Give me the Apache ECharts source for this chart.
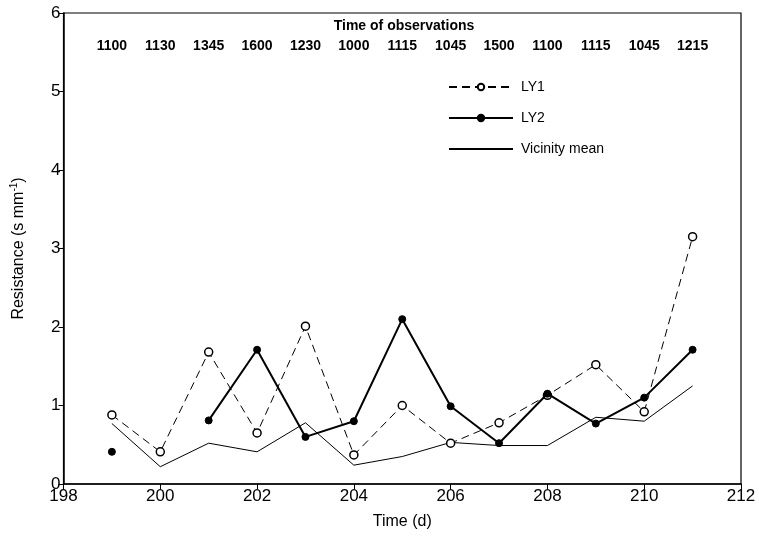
<!DOCTYPE html>
<html><head><meta charset="utf-8">
<script src="https://cdn.jsdelivr.net/npm/echarts@6/dist/echarts.min.js"></script>
<style>html,body{margin:0;padding:0;background:#fff}#c{width:759px;height:537px}</style>
</head><body><div id="c"></div>
<script>
const days = [199,200,201,202,203,204,205,206,207,208,209,210,211];
const obsTimes = ['1100','1130','1345','1600','1230','1000','1115','1045','1500','1100','1115','1045','1215'];
const ly1 = [0.88,0.41,1.68,0.65,2.01,0.37,1.00,0.52,0.78,1.13,1.52,0.92,3.15];
const ly2 = [0.41,null,0.81,1.71,0.60,0.80,2.10,0.99,0.52,1.15,0.77,1.10,1.71];
const vicinity = [0.77,0.22,0.52,0.41,0.78,0.24,0.35,0.53,0.49,0.49,0.85,0.80,1.25];
const yTicks = [0,1,2,3,4,5,6];

const pair = arr => days.map((d,i)=>[d,arr[i]]);
const timeMap = {}; days.forEach((d,i)=>timeMap[d]=obsTimes[i]);
const F = 'Liberation Sans, Arial, sans-serif';
const FN = '"Liberation Sans Narrow", "Liberation Sans", Arial, sans-serif';

const chart = echarts.init(document.getElementById('c'));
chart.setOption({
  animation:false,
  backgroundColor:'#fff',
  grid:{left:63.5,right:18,top:13,bottom:53,show:true,borderColor:'#000',borderWidth:1.2,backgroundColor:'transparent'},
  title:{text:'Time of observations',left:399,top:14,textAlign:'center',
    textStyle:{fontFamily:FN,fontWeight:'bold',fontSize:14,color:'#000'}},
  legend:{orient:'vertical',left:443,top:75,itemWidth:64,itemHeight:8,itemGap:17,
    textStyle:{fontFamily:F,fontSize:14,color:'#000',padding:[0,0,0,3]},
    data:[
      {name:'LY1'},
      {name:'LY2'},
      {name:'Vicinity mean',itemStyle:{color:'rgba(0,0,0,0)',borderColor:'rgba(0,0,0,0)',borderWidth:0}}
    ]},
  xAxis:[{
    type:'value',min:198,max:212,interval:2,
    name:'Time (d)',nameLocation:'middle',nameGap:30,
    nameTextStyle:{fontFamily:F,fontSize:16,color:'#000'},
    axisLine:{lineStyle:{color:'#000',width:1.5}},
    axisTick:{lineStyle:{color:'#000'},length:5},
    axisLabel:{fontFamily:F,fontSize:17,color:'#000',margin:4},
    splitLine:{show:false}
  },{
    type:'value',position:'top',min:198,max:212,interval:1,
    axisLine:{show:false},axisTick:{show:false},splitLine:{show:false},
    axisLabel:{inside:true,margin:26,fontFamily:FN,fontWeight:'bold',fontSize:14,color:'#000',
      formatter:v=>timeMap[v]||''}
  }],
  yAxis:{
    type:'value',min:0,max:6,interval:1,
    name:'Resistance (s mm{sup|-1})',nameLocation:'middle',nameGap:36,
    nameTextStyle:{fontFamily:F,fontSize:16,color:'#000',
      rich:{sup:{fontFamily:F,fontSize:10,color:'#000',verticalAlign:'top',padding:[0,0,8,0]}}},
    axisLine:{lineStyle:{color:'#000',width:1.5}},
    axisTick:{lineStyle:{color:'#000'},length:5},
    axisLabel:{fontFamily:F,fontSize:17,color:'#000',margin:3,
      formatter:v=>yTicks.includes(v)?String(v):''},
    splitLine:{show:false}
  },
  series:[
    {name:'LY1',type:'line',data:pair(ly1),symbol:'circle',symbolSize:8,
      itemStyle:{color:'#fff',borderColor:'#000',borderWidth:1.5},
      lineStyle:{color:'#000',width:1,type:[8,5]},z:3},
    {name:'LY2',type:'line',data:pair(ly2),symbol:'circle',symbolSize:7,connectNulls:false,
      itemStyle:{color:'#000',borderColor:'#000',borderWidth:1},
      lineStyle:{color:'#000',width:2},z:4},
    {name:'Vicinity mean',type:'line',data:pair(vicinity),symbol:'none',showSymbol:false,
      itemStyle:{color:'#000'},
      lineStyle:{color:'#000',width:1},z:2}
  ]
});
</script></body></html>
